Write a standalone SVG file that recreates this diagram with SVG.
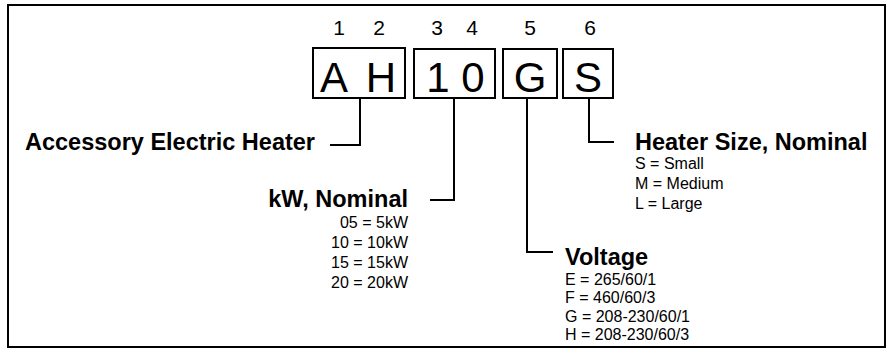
<svg xmlns="http://www.w3.org/2000/svg" width="888" height="350" viewBox="0 0 888 350">
<style>
.frame{fill:none;stroke:#000;stroke-width:2}
.box{fill:#fff;stroke:#000;stroke-width:2}
.pos{font-family:"Liberation Sans",Arial,sans-serif;font-size:21px;fill:#000;text-anchor:middle}
.code{font-family:"Liberation Sans",Arial,sans-serif;font-size:42px;fill:#000;text-anchor:middle}
.head{font-family:"Liberation Sans",Arial,sans-serif;font-size:23.5px;font-weight:bold;fill:#000}
.item{font-family:"Liberation Sans",Arial,sans-serif;font-size:16px;fill:#000}
.conn{fill:none;stroke:#000;stroke-width:2}
</style>
<rect width="888" height="350" fill="#fff"/>
<rect class="frame" x="8" y="5" width="877" height="342"/>
<g id="positions">
<text class="pos" x="339" y="35">1</text>
<text class="pos" x="379" y="35">2</text>
<text class="pos" x="437" y="35">3</text>
<text class="pos" x="472" y="35">4</text>
<text class="pos" x="530" y="35">5</text>
<text class="pos" x="590" y="35">6</text>
</g>
<g id="box-AH">
<rect class="box" x="313" y="48" width="92" height="50"/>
<text class="code" x="334" y="92">A</text>
<text class="code" x="381" y="92">H</text>
</g>
<g id="box-10">
<rect class="box" x="414" y="49" width="81" height="49"/>
<text class="code" x="438" y="92">1</text>
<text class="code" x="473" y="92">0</text>
</g>
<g id="box-G">
<rect class="box" x="503" y="49" width="54" height="49"/>
<text class="code" x="530" y="92">G</text>
</g>
<g id="box-S">
<rect class="box" x="563" y="49" width="50" height="49"/>
<text class="code" x="588" y="92">S</text>
</g>
<g id="connectors">
<polyline class="conn" points="360,98 360,145 330,145"/>
<polyline class="conn" points="454,98 454,200 430,200"/>
<polyline class="conn" points="527,98 527,252 553,252"/>
<polyline class="conn" points="589,98 589,142 614,142"/>
</g>
<g id="label-heater">
<text class="head" x="25" y="150">Accessory Electric Heater</text>
</g>
<g id="label-kw">
<text class="head" x="408" y="207" text-anchor="end">kW, Nominal</text>
<text class="item" x="408" y="228" text-anchor="end">05 = 5kW</text>
<text class="item" x="408" y="248" text-anchor="end">10 = 10kW</text>
<text class="item" x="408" y="268" text-anchor="end">15 = 15kW</text>
<text class="item" x="408" y="288" text-anchor="end">20 = 20kW</text>
</g>
<g id="label-voltage">
<text class="head" x="565" y="265">Voltage</text>
<text class="item" x="565" y="285">E = 265/60/1</text>
<text class="item" x="565" y="303">F = 460/60/3</text>
<text class="item" x="565" y="322">G = 208-230/60/1</text>
<text class="item" x="565" y="340">H = 208-230/60/3</text>
</g>
<g id="label-size">
<text class="head" x="635" y="150">Heater Size, Nominal</text>
<text class="item" x="635" y="169">S = Small</text>
<text class="item" x="635" y="189">M = Medium</text>
<text class="item" x="635" y="209">L = Large</text>
</g>
</svg>
